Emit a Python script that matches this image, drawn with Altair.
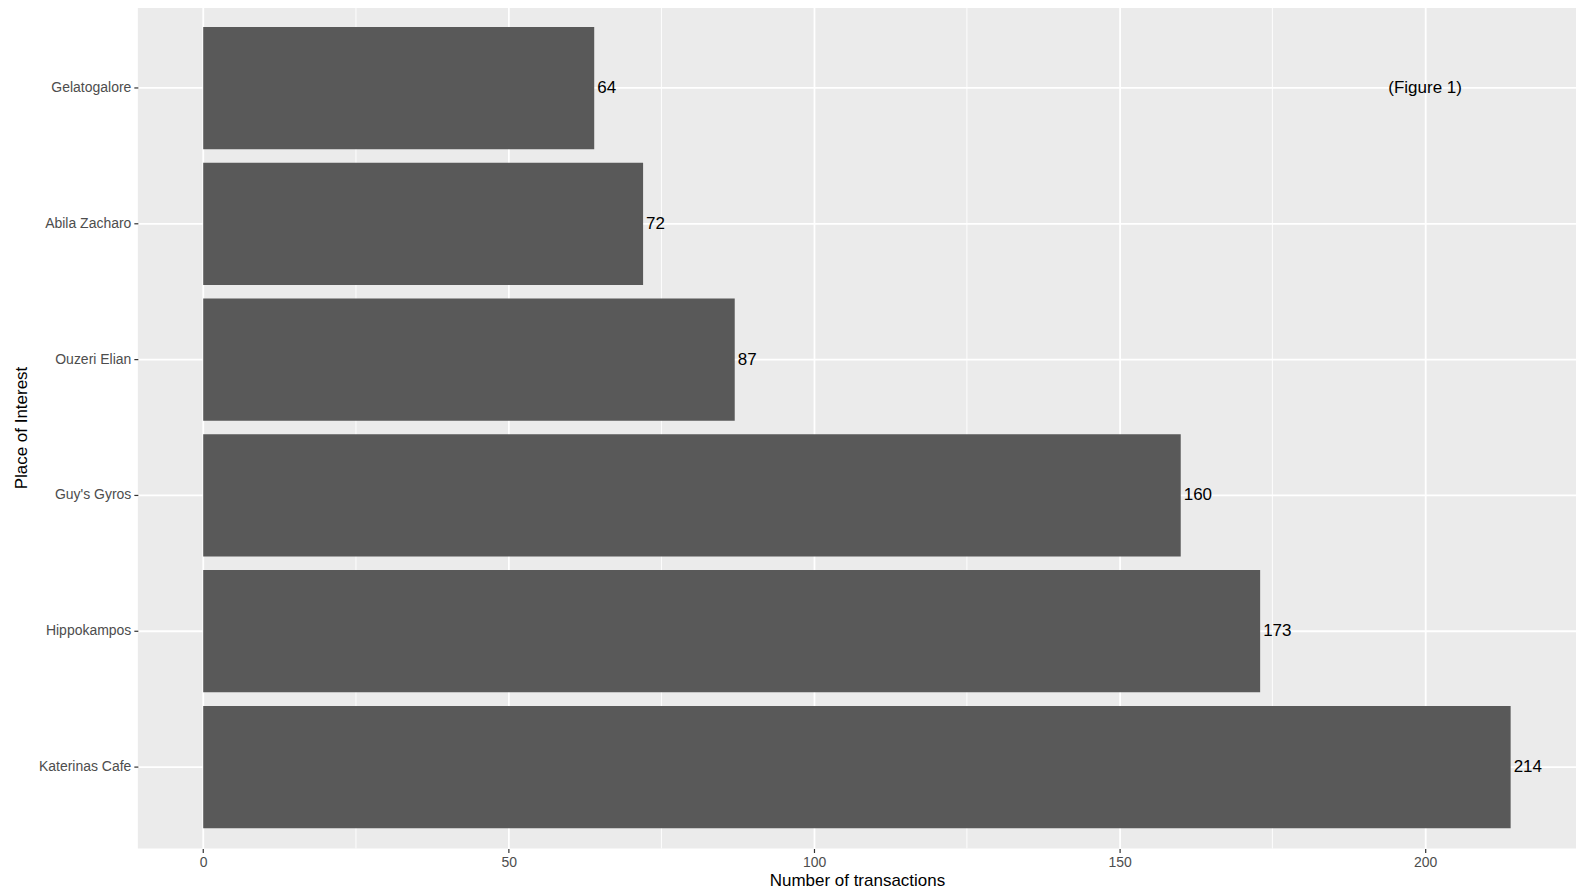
import altair as alt
import pandas as pd

places = ["Gelatogalore", "Abila Zacharo", "Ouzeri Elian", "Guy's Gyros", "Hippokampos", "Katerinas Cafe"]
counts = [64, 72, 87, 160, 173, 214]
major_breaks = [0, 50, 100, 150, 200]
minor_breaks = [25, 75, 125, 175]
note_text = ["(Figure 1)"]
note_x = [200]
note_place = ["Gelatogalore"]

df = pd.DataFrame({"place": places, "n": counts})
minor_df = pd.DataFrame({"m": minor_breaks})
note_df = pd.DataFrame({"label": note_text, "x": note_x, "place": note_place})

FONT = "Liberation Sans"
xscale = alt.Scale(domain=[-10.7, 224.7], nice=False, zero=False)
yscale = alt.Scale(domain=places, paddingInner=0.1, paddingOuter=0.15)

minor = alt.Chart(minor_df).mark_rule(color="white", strokeWidth=0.9).encode(
    x=alt.X("m:Q", scale=xscale,
            axis=alt.Axis(values=major_breaks, title="Number of transactions", grid=True,
                          gridColor="white", gridWidth=1.8, domain=False,
                          tickColor="#333333", tickSize=4, tickWidth=1.2,
                          labelColor="#4D4D4D", labelFont=FONT, labelFontSize=14, labelPadding=3,
                          titleFont=FONT, titleFontSize=17, titleColor="black",
                          titleFontWeight="normal", titlePadding=3)),
)

bars = alt.Chart(df).mark_bar(color="#595959").encode(
    x=alt.X("n:Q", scale=xscale),
    x2=alt.datum(0),
    y=alt.Y("place:N", scale=yscale, sort=places,
            axis=alt.Axis(title="Place of Interest", grid=True, gridColor="white", gridWidth=1.8,
                          bandPosition=0.5, domain=False,
                          tickColor="#333333", tickSize=4, tickWidth=1.2,
                          labelColor="#4D4D4D", labelFont=FONT, labelFontSize=14, labelPadding=3,
                          titleFont=FONT, titleFontSize=17, titleColor="black",
                          titleFontWeight="normal", titlePadding=8)),
)

labels = alt.Chart(df).mark_text(align="left", baseline="middle", dx=3, fontSize=17,
                                 font=FONT, color="black").encode(
    x=alt.X("n:Q", scale=xscale),
    y=alt.Y("place:N", scale=yscale, sort=places),
    text="n:Q",
)

note = alt.Chart(note_df).mark_text(align="center", baseline="middle", fontSize=17,
                                    font=FONT, color="black").encode(
    x=alt.X("x:Q", scale=xscale),
    y=alt.Y("place:N", scale=yscale, sort=places),
    text="label:N",
)

chart = alt.layer(minor, bars, labels, note).properties(
    width=1440, height=843,
    autosize=alt.AutoSizeParams(type="none"),
    padding={"left": 130, "top": -2, "right": 10, "bottom": 46},
    background="white",
).configure_view(fill="#EBEBEB", stroke=None)

chart.save("out.html", embed_options={"renderer": "svg", "actions": False})
